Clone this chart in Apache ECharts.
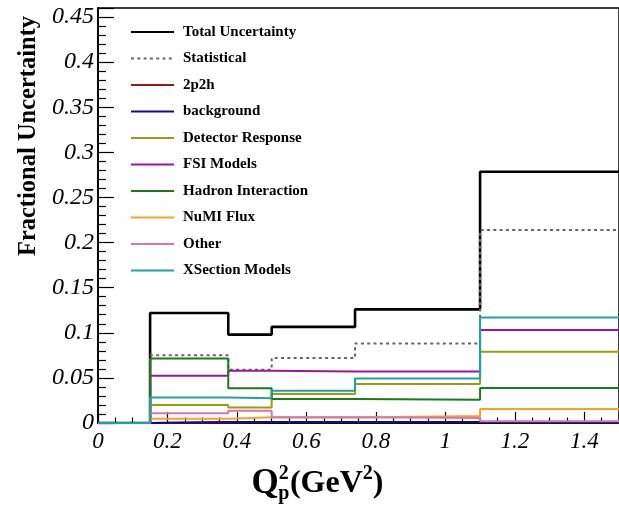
<!DOCTYPE html>
<html>
<head>
<meta charset="utf-8">
<script src="https://cdn.jsdelivr.net/npm/echarts@6/dist/echarts.min.js"></script>
<style>
  html, body { margin: 0; padding: 0; background: #fff; }
  #chart { width: 619px; height: 509px; }
</style>
</head>
<body>
<div id="chart"></div>
<script>
// Bin edges of Q^2_p (GeV^2)
const binEdges = [0, 0.15, 0.375, 0.5, 0.74, 1.1, 1.5];

// Fractional uncertainty per bin
const totalUncertainty = [0, 0.122, 0.098, 0.1065, 0.126, 0.2785];
const statistical      = [0, 0.0752, 0.059, 0.072, 0.0882, 0.2138];
const twoP2h           = [0, 0.0008, 0.001, 0.001, 0.001, 0.0008];
const backgroundUnc    = [0, 0.0012, 0.0012, 0.0012, 0.0012, 0.0005];
const detectorResponse = [0, 0.0199, 0.0173, 0.0321, 0.0431, 0.0789];
const fsiModels        = [0, 0.0523, 0.0579, 0.0571, 0.057, 0.103];
const hadronInteraction= [0, 0.0715, 0.0384, 0.0265, 0.0258, 0.0387];
const numiFlux         = [0, 0.0047, 0.0063, 0.006, 0.0077, 0.0155];
const otherUnc         = [0, 0.0107, 0.0136, 0.0063, 0.0055, 0.002];
const xsectionModels   = [0, 0.0284, 0.0273, 0.0358, 0.0494, 0.1169];

const seriesNames = ['Total Uncertainty', 'Statistical', '2p2h', 'background',
  'Detector Response', 'FSI Models', 'Hadron Interaction', 'NuMI Flux', 'Other', 'XSection Models'];
const seriesValues = [totalUncertainty, statistical, twoP2h, backgroundUnc,
  detectorResponse, fsiModels, hadronInteraction, numiFlux, otherUnc, xsectionModels];
const seriesColors = ['#000000', '#666666', '#a11515', '#0a0a9c', '#9c9c0c',
  '#a012a0', '#1c7a1c', '#ffa020', '#d676aa', '#1ea3a3'];

// Histogram outline: one point per left bin edge plus the final right edge
function stepPoints(vals) {
  const pts = vals.map((v, i) => [binEdges[i], v]);
  pts.push([binEdges[binEdges.length - 1], vals[vals.length - 1]]);
  return pts;
}

const series = seriesNames.map((name, i) => ({
  name: name,
  type: 'line',
  step: 'end',
  symbol: 'none',
  showSymbol: false,
  data: stepPoints(seriesValues[i]),
  lineStyle: {
    color: seriesColors[i],
    width: i === 0 ? 2.6 : 2,
    type: i === 1 ? [3, 3.3] : 'solid'
  },
  itemStyle: { color: seriesColors[i] },
  z: 2 + i
}));

const serif = 'Liberation Serif';
const bold = (size, extra) => Object.assign({ fontFamily: serif, fontWeight: 'bold', fontSize: size, color: '#000' }, extra);

const chart = echarts.init(document.getElementById('chart'), null, { renderer: 'canvas' });
chart.setOption({
  animation: false,
  backgroundColor: '#ffffff',
  grid: {
    left: 98, top: 8, width: 526, height: 416,
    show: true, borderColor: '#000', borderWidth: 1.5, backgroundColor: 'transparent'
  },
  legend: {
    orient: 'vertical',
    left: 125, top: 19,
    itemWidth: 43, itemHeight: 16, itemGap: 10.5,
    itemStyle: { opacity: 0 },
    textStyle: { fontFamily: serif, fontWeight: 'bold', fontSize: 15, color: '#000', lineHeight: 16, padding: [0, 0, 0, 4] },
    data: seriesNames
  },
  xAxis: {
    type: 'value', min: 0, max: 1.5, interval: 0.2,
    // Q with stacked superscript 2 and subscript p, then (GeV^2)
    name: '{q|Q}{sup0|2}{sub|p}{b|(GeV}{sup|2}{b|)}',
    nameLocation: 'middle', nameGap: 41,
    nameTextStyle: {
      padding: [0, 82, 0, 0],
      rich: {
        q: bold(35, { lineHeight: 40, verticalAlign: 'middle' }),
        b: bold(32, { lineHeight: 40, verticalAlign: 'middle' }),
        sup0: bold(20, { lineHeight: 24, width: 0.1, padding: [0, 0, 0, 5], verticalAlign: 'top' }),
        sub: bold(20, { lineHeight: 22, width: 0.1, padding: [0, 6, 0, 0], verticalAlign: 'bottom' }),
        sup: bold(20, { lineHeight: 24, verticalAlign: 'top' })
      }
    },
    axisLine: { lineStyle: { color: '#000', width: 1.5 } },
    axisTick: { inside: true, length: 11, lineStyle: { color: '#000', width: 1.2 } },
    minorTick: { show: true, splitNumber: 4, length: 5.5, lineStyle: { color: '#000', width: 1.2 } },
    splitLine: { show: false },
    axisLabel: { fontFamily: serif, fontStyle: 'italic', fontSize: 23, color: '#000', margin: 7, showMaxLabel: false }
  },
  yAxis: {
    type: 'value', min: 0, max: 0.46, interval: 0.05,
    name: 'Fractional Uncertainty',
    nameLocation: 'middle', nameGap: 57,
    nameTextStyle: { fontFamily: serif, fontWeight: 'bold', fontSize: 24.5, color: '#000', padding: [0, 0, 0, 159] },
    axisLine: { lineStyle: { color: '#000', width: 1.8 } },
    axisTick: { inside: true, length: 16, lineStyle: { color: '#000', width: 1.2 } },
    minorTick: { show: true, splitNumber: 5, length: 8, lineStyle: { color: '#000', width: 1.2 } },
    splitLine: { show: false },
    axisLabel: { fontFamily: serif, fontStyle: 'italic', fontSize: 24, color: '#000', margin: 4, showMaxLabel: false }
  },
  series: series
});
</script>
</body>
</html>
